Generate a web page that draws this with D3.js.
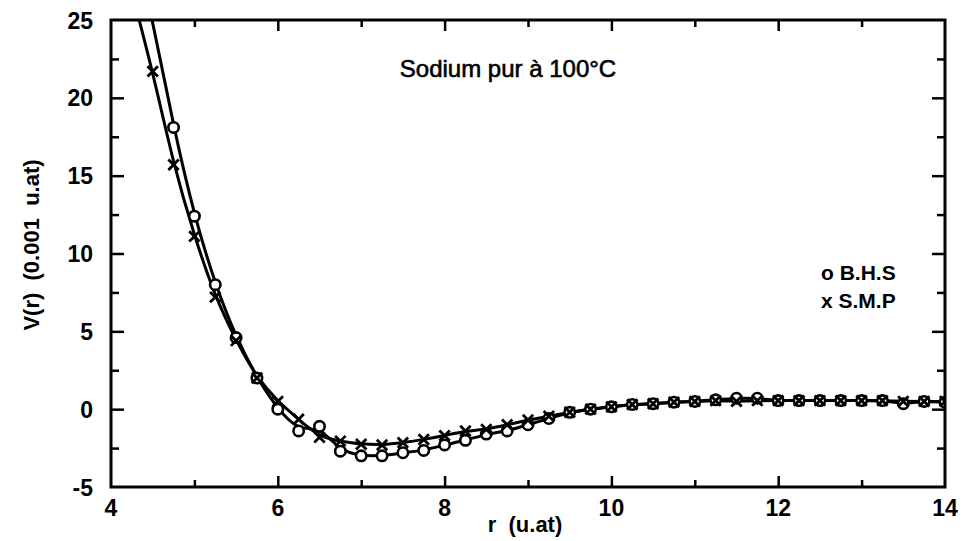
<!DOCTYPE html>
<html><head><meta charset="utf-8">
<script src="https://cdn.jsdelivr.net/npm/d3@7"></script>
<style>body{margin:0;background:#fff}svg{display:block}</style>
</head><body>
<svg id="c" width="964" height="541"></svg>
<script>
const rValues = [4.25,4.5,4.75,5.0,5.25,5.5,5.75,6.0,6.25,6.5,6.75,7.0,7.25,7.5,7.75,8.0,8.25,8.5,8.75,9.0,9.25,9.5,9.75,10.0,10.25,10.5,10.75,11.0,11.25,11.5,11.75,12.0,12.25,12.5,12.75,13.0,13.25,13.5,13.75,14.0];
const bhsValues = [30.5,25.05,18.1,12.4,8.0,4.6,2.0,0.0,-1.4,-1.1,-2.7,-3.0,-3.0,-2.8,-2.65,-2.3,-2.0,-1.6,-1.4,-1.0,-0.6,-0.2,0.0,0.15,0.3,0.35,0.45,0.5,0.6,0.7,0.7,0.55,0.55,0.55,0.55,0.55,0.55,0.35,0.5,0.45];
const smpValues = [26.8,21.7,15.7,11.1,7.2,4.4,2.0,0.5,-0.65,-1.8,-2.05,-2.25,-2.3,-2.15,-1.95,-1.7,-1.4,-1.3,-1.0,-0.7,-0.45,-0.2,0.0,0.15,0.3,0.35,0.45,0.5,0.55,0.5,0.55,0.55,0.55,0.55,0.55,0.55,0.55,0.5,0.5,0.5];
const xTicks = [4,6,8,10,12,14];
const yTicks = [-5,0,5,10,15,20,25];
const titleText = "Sodium pur à 100°C";
const legendItems = ["o B.H.S","x S.M.P"];

const svg = d3.select("#c");
const x = d3.scaleLinear().domain([4,14]).range([111,945]);
const y = d3.scaleLinear().domain([-5,25]).range([487,20]);
const font = "'Liberation Sans', Arial, sans-serif";

svg.append("defs").append("clipPath").attr("id","clip")
  .append("rect").attr("x",111).attr("y",20).attr("width",834).attr("height",467);

const g = svg.append("g").attr("clip-path","url(#clip)");
const line = d3.line().x(d=>x(d[0])).y(d=>y(d[1])).curve(d3.curveBasis);
const bhs = rValues.map((r,i)=>[r,bhsValues[i]]);
const smp = rValues.map((r,i)=>[r,smpValues[i]]);
[bhs,smp].forEach(s=>g.append("path").attr("d",line(s)).attr("fill","none").attr("stroke","#000").attr("stroke-width",3));

g.selectAll("circle.b").data(bhs.filter(d=>d[1]<=25)).join("circle")
  .attr("cx",d=>x(d[0])).attr("cy",d=>y(d[1])).attr("r",5.2)
  .attr("fill","#fff").attr("stroke","#000").attr("stroke-width",2.6);
const xs = 5.2;
g.selectAll("path.s").data(smp.filter(d=>d[1]<=25)).join("path")
  .attr("d",d=>{const cx=x(d[0]),cy=y(d[1]);return `M${cx-xs},${cy-xs}L${cx+xs},${cy+xs}M${cx-xs},${cy+xs}L${cx+xs},${cy-xs}`;})
  .attr("stroke","#000").attr("stroke-width",2.8).attr("fill","none");

// frame
svg.append("rect").attr("x",111).attr("y",20).attr("width",834).attr("height",467)
  .attr("fill","none").attr("stroke","#000").attr("stroke-width",3);

// axes with inward ticks
const ax = svg.append("g");
ax.append("g").attr("transform","translate(0,487)")
  .call(d3.axisBottom(x).tickValues(d3.range(5,14,1)).tickSizeInner(-10).tickSizeOuter(0).tickFormat(""))
  .call(s=>{s.select(".domain").remove(); s.selectAll(".tick line").attr("stroke-width",2.5).attr("y2",d=>d%2===0?-11:-7);});
ax.append("g").attr("transform","translate(0,20)")
  .call(d3.axisTop(x).tickValues(d3.range(5,14,1)).tickSizeInner(-10).tickSizeOuter(0).tickFormat(""))
  .call(s=>{s.select(".domain").remove(); s.selectAll(".tick line").attr("stroke-width",2.5).attr("y2",d=>d%2===0?11:7);});
ax.append("g").attr("transform","translate(111,0)")
  .call(d3.axisLeft(y).tickValues(d3.range(-2.5,25,2.5)).tickSizeInner(-12).tickSizeOuter(0).tickFormat(""))
  .call(s=>{s.select(".domain").remove(); s.selectAll(".tick line").attr("stroke-width",2.5).attr("x2",d=>d%5===0?13:8);});
ax.append("g").attr("transform","translate(945,0)")
  .call(d3.axisRight(y).tickValues(d3.range(-2.5,25,2.5)).tickSizeInner(-12).tickSizeOuter(0).tickFormat(""))
  .call(s=>{s.select(".domain").remove(); s.selectAll(".tick line").attr("stroke-width",2.5).attr("x2",d=>d%5===0?-13:-8);});

// tick labels
svg.selectAll("text.xt").data(xTicks).join("text").attr("class","xt")
  .attr("x",d=>x(d)).attr("y",516).attr("text-anchor","middle")
  .attr("font-family",font).attr("font-weight","bold").attr("font-size",23).text(d=>String(d));
svg.selectAll("text.yt").data(yTicks).join("text").attr("class","yt")
  .attr("x",93).attr("y",d=>y(d)+8.5).attr("text-anchor","end")
  .attr("font-family",font).attr("font-weight","bold").attr("font-size",23).text(d=>String(d));

// axis titles
svg.append("text").attr("x",525).attr("y",532).attr("text-anchor","middle")
  .attr("font-family",font).attr("font-weight","bold").attr("font-size",22).attr("xml:space","preserve").text("r  (u.at)");
svg.append("text").attr("transform","translate(39,245) rotate(-90)").attr("text-anchor","middle")
  .attr("font-family",font).attr("font-weight","bold").attr("font-size",22).attr("xml:space","preserve").text("V(r)  (0.001  u.at)");

// title
svg.append("text").attr("x",508).attr("y",77).attr("text-anchor","middle")
  .attr("font-family",font).attr("font-size",24).attr("font-weight","normal")
  .attr("stroke","#000").attr("stroke-width",0.6).text(titleText);

// legend
svg.selectAll("text.lg").data(legendItems).join("text").attr("class","lg")
  .attr("x",821).attr("y",(d,i)=>280+i*28)
  .attr("font-family",font).attr("font-weight","bold").attr("font-size",21).text(d=>d);
</script>
</body></html>
